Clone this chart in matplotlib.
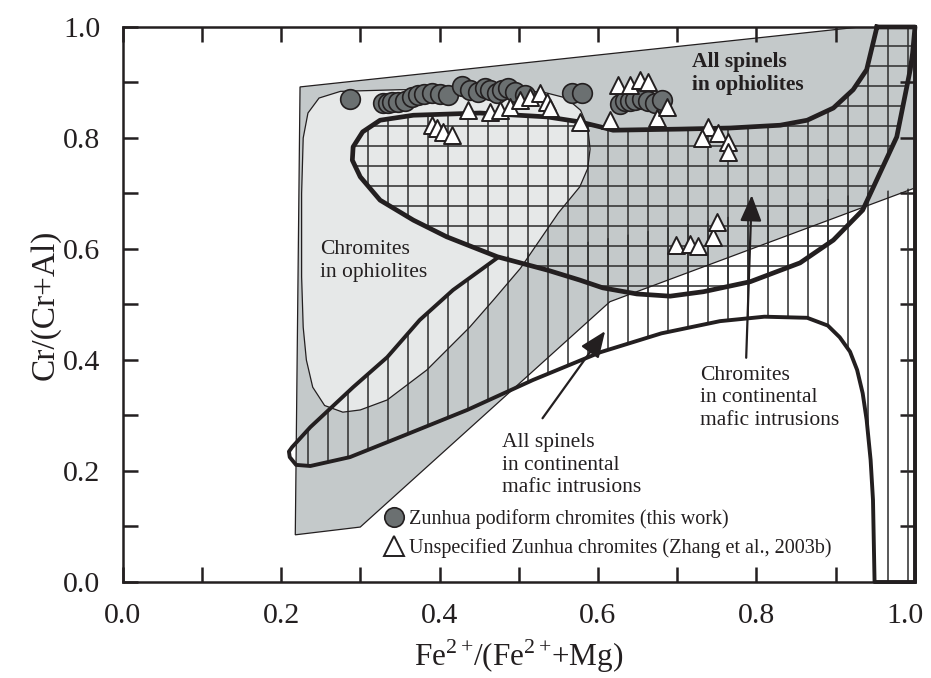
import numpy as np
import matplotlib
matplotlib.use("Agg")
import matplotlib.pyplot as plt
import matplotlib.transforms as mtransforms
from matplotlib.patches import Polygon
from matplotlib.lines import Line2D
from matplotlib.ticker import MultipleLocator, FormatStrFormatter

plt.rcParams['font.family'] = ['Liberation Serif', 'DejaVu Serif']
plt.rcParams['mathtext.fontset'] = 'custom'
plt.rcParams['mathtext.rm'] = 'Liberation Serif'

INK = '#231f20'
MID = '#c4c9ca'
LIGHT = '#e6e8e8'

# --- field outlines (x = Fe2+/(Fe2+ + Mg), y = Cr/(Cr+Al)) ---
# grey field: all spinels in ophiolites
outer_x = [0.218, 0.300, 0.615, 1.0, 1.0, 0.93, 0.224]
outer_y = [0.085, 0.099, 0.505, 0.71, 1.0, 1.0, 0.892]

# light field: chromites in ophiolites
light_x = [0.226, 0.228, 0.234, 0.248, 0.275, 0.35, 0.45, 0.53, 0.56, 0.578, 0.587, 0.59,
           0.587, 0.577, 0.55, 0.502, 0.468, 0.438, 0.384, 0.334, 0.30, 0.278, 0.255,
           0.24, 0.232, 0.228, 0.226]
light_y = [0.70, 0.80, 0.845, 0.872, 0.884, 0.887, 0.887, 0.883, 0.872, 0.85, 0.82, 0.78,
           0.745, 0.712, 0.665, 0.565, 0.508, 0.459, 0.382, 0.328, 0.31, 0.306, 0.318,
           0.351, 0.40, 0.459, 0.55]

# thick loop (cross-hatched): chromites in continental mafic intrusions
loopA_x = [0.952, 0.939, 0.922, 0.897, 0.864, 0.830, 0.767, 0.703, 0.619, 0.603, 0.577,
           0.536, 0.451, 0.367, 0.325, 0.303, 0.291, 0.290, 0.300, 0.325, 0.367, 0.409,
           0.473, 0.536, 0.577, 0.606, 0.649, 0.691, 0.733, 0.792, 0.855, 0.897, 0.934,
           0.977, 0.994, 0.997, 1.0]
loopA_y = [1.0, 0.923, 0.887, 0.854, 0.832, 0.823, 0.818, 0.816, 0.814, 0.820, 0.829,
           0.838, 0.845, 0.841, 0.832, 0.811, 0.784, 0.760, 0.730, 0.688, 0.652, 0.622,
           0.586, 0.562, 0.544, 0.530, 0.519, 0.515, 0.523, 0.541, 0.575, 0.616, 0.670,
           0.802, 0.923, 0.953, 1.0]

# vertical-hatched field: all spinels in continental mafic intrusions
B_lower_x = [0.214, 0.210, 0.211, 0.219, 0.237, 0.287, 0.350, 0.435, 0.518, 0.603, 0.680,
             0.754, 0.810, 0.864, 0.890, 0.905, 0.918, 0.927, 0.934, 0.939, 0.944, 0.947,
             0.949]
B_lower_y = [0.243, 0.235, 0.225, 0.211, 0.209, 0.225, 0.261, 0.310, 0.364, 0.414, 0.448,
             0.470, 0.478, 0.476, 0.462, 0.441, 0.415, 0.382, 0.340, 0.292, 0.220, 0.148,
             0.0]
B_upper_x = [0.214, 0.237, 0.291, 0.334, 0.375, 0.417, 0.473]
B_upper_y = [0.243, 0.279, 0.351, 0.405, 0.472, 0.526, 0.584]

# --- samples ---
pod_x = [0.287, 0.329, 0.335, 0.340, 0.348, 0.356, 0.365, 0.373, 0.381, 0.390, 0.400,
         0.411, 0.428, 0.438, 0.449, 0.457, 0.464, 0.472, 0.479, 0.486, 0.495, 0.508,
         0.567, 0.580, 0.628, 0.634, 0.640, 0.647, 0.655, 0.663, 0.672, 0.681]
pod_y = [0.870, 0.863, 0.863, 0.865, 0.865, 0.867, 0.874, 0.877, 0.879, 0.881, 0.879,
         0.877, 0.894, 0.886, 0.883, 0.890, 0.886, 0.881, 0.886, 0.890, 0.883, 0.877,
         0.881, 0.881, 0.861, 0.867, 0.867, 0.868, 0.870, 0.867, 0.863, 0.868]

uns_x = [0.436, 0.391, 0.397, 0.404, 0.416, 0.464, 0.476, 0.489, 0.502, 0.514, 0.527,
         0.536, 0.539, 0.577, 0.615, 0.625, 0.640, 0.653, 0.663, 0.674, 0.687,
         0.739, 0.751, 0.731, 0.764, 0.764,
         0.699, 0.716, 0.726, 0.745, 0.750]
uns_y = [0.850, 0.823, 0.818, 0.811, 0.805, 0.847, 0.850, 0.856, 0.868, 0.874, 0.881,
         0.865, 0.854, 0.829, 0.832, 0.895, 0.895, 0.905, 0.901, 0.836, 0.856,
         0.820, 0.809, 0.800, 0.793, 0.775,
         0.607, 0.609, 0.605, 0.622, 0.649]

fig = plt.figure(figsize=(9.31, 6.78), dpi=100)
ax = fig.add_axes([0.1316, 0.1416, 0.8512, 0.8186])
ax.set_xlim(0, 1)
ax.set_ylim(0, 1)

# fills
outer = Polygon(np.column_stack([outer_x, outer_y]), closed=True, facecolor=MID,
                edgecolor='none', zorder=1)
ax.add_patch(outer)
light = Polygon(np.column_stack([light_x, light_y]), closed=True, facecolor=LIGHT,
                edgecolor='none', zorder=2)
ax.add_patch(light)

# clip regions for the hatching
loopA = Polygon(np.column_stack([loopA_x, loopA_y]), closed=True, fill=False,
                lw=0, zorder=0)
ax.add_patch(loopA)
bx = B_lower_x + [1.0, 1.0, 0.93] + B_upper_x[::-1]
by = B_lower_y + [0.0, 0.71, 0.70] + B_upper_y[::-1]
loopB = Polygon(np.column_stack([bx, by]), closed=True, fill=False, lw=0, zorder=0)
ax.add_patch(loopB)

dx, dy = 0.02524, 0.03604
vx = np.arange(0.6126 - 25 * dx, 1.0, dx)
hy = np.arange(0.7856 - 22 * dy, 1.0, dy)
hatch_kw = dict(colors='#333333', linewidth=1.15, zorder=3)
v1 = ax.vlines(vx, 0, 1, **hatch_kw)
v1.set_clip_path(loopA)
h1 = ax.hlines(hy, 0, 1, **hatch_kw)
h1.set_clip_path(loopA)
v2 = ax.vlines(vx, 0, 1, **hatch_kw)
v2.set_clip_path(loopB)

# thin outlines
ax.add_patch(Polygon(np.column_stack([outer_x, outer_y]), closed=True, fill=False,
                     edgecolor=INK, lw=0.9, zorder=4))
ax.add_patch(Polygon(np.column_stack([light_x, light_y]), closed=True, fill=False,
                     edgecolor=INK, lw=0.9, zorder=4))

# thick outlines
ax.plot(loopA_x + [loopA_x[0]], loopA_y + [loopA_y[0]], color=INK, lw=3.4,
        solid_joinstyle='round', zorder=5, clip_on=False)
ax.plot(B_upper_x[::-1] + B_lower_x[1:] + [1.0, 1.0], B_upper_y[::-1] + B_lower_y[1:] + [0.0, 1.0],
        color=INK, lw=2.8, solid_joinstyle='round', zorder=5, clip_on=False)

# arrows
akw = dict(arrowstyle='-|>,head_length=0.8,head_width=0.33', color=INK, lw=1.6,
           shrinkA=0, shrinkB=0, mutation_scale=20)
ax.annotate('', xy=(0.794, 0.697), xytext=(0.787, 0.404), arrowprops=akw, zorder=6)
ax.annotate('', xy=(0.609, 0.452), xytext=(0.530, 0.295), arrowprops=akw, zorder=6)

# labels of the fields (y = baseline of the last line)
tkw = dict(fontsize=15.5, color=INK, ha='left', va='baseline', linespacing=1.25, zorder=7)
ax.text(0.719, 0.886, 'All spinels\nin ophiolites', fontweight='bold', **tkw)
ax.text(0.249, 0.550, 'Chromites\nin ophiolites', **tkw)
ax.text(0.729, 0.283, 'Chromites\nin continental\nmafic intrusions', **tkw)
ax.text(0.479, 0.162, 'All spinels\nin continental\nmafic intrusions', **tkw)

# samples
ax.scatter(pod_x, pod_y, s=200, marker='o', facecolor='#6b7071', edgecolor=INK,
           linewidth=1.2, zorder=8)
ax.scatter(uns_x, uns_y, s=150, marker='^', facecolor='white', edgecolor=INK,
           linewidth=1.4, zorder=9)

handles = [
    Line2D([], [], ls='none', marker='o', markersize=14, markerfacecolor='#6b7071',
           markeredgecolor=INK, markeredgewidth=1.2),
    Line2D([], [], ls='none', marker='^', markersize=14, markerfacecolor='white',
           markeredgecolor=INK, markeredgewidth=1.4),
]
ax.legend(handles, ['Zunhua podiform chromites (this work)',
                    'Unspecified Zunhua chromites (Zhang et al., 2003b)'],
          loc='upper left', bbox_to_anchor=(0.332, 0.132), frameon=False,
          fontsize=14.5, handlelength=0.8, handletextpad=0.35, labelspacing=0.45,
          borderpad=0, borderaxespad=0, labelcolor=INK)

# axes
ax.xaxis.set_major_locator(MultipleLocator(0.2))
ax.yaxis.set_major_locator(MultipleLocator(0.2))
ax.xaxis.set_minor_locator(MultipleLocator(0.1))
ax.yaxis.set_minor_locator(MultipleLocator(0.1))
ax.xaxis.set_major_formatter(FormatStrFormatter('%.1f'))
ax.yaxis.set_major_formatter(FormatStrFormatter('%.1f'))
ax.tick_params(which='both', direction='in', length=10.5, width=1.8, color=INK,
               top=True, right=True)
ax.tick_params(which='major', labelsize=21.5, labelcolor=INK)
ax.tick_params(axis='x', which='major', pad=15)
ax.tick_params(axis='y', which='major', pad=16)
for s in ax.spines.values():
    s.set_linewidth(1.8)
    s.set_color(INK)
    s.set_zorder(10)

ax.set_xlabel(r'Fe$^{2+}\!$/(Fe$^{2+}\!$+Mg)', fontsize=22.5, color=INK,
              labelpad=6)
ax.set_ylabel('Cr/(Cr+Al)', fontsize=24, color=INK, labelpad=2)

# keep the last x tick label inside the figure
fig.canvas.draw()
for t in ax.xaxis.get_major_ticks():
    if t.get_loc() is not None and abs(t.get_loc() - 1.0) < 1e-6:
        t.label1.set_transform(t.label1.get_transform() +
                               mtransforms.ScaledTranslation(-7 / 72, 0, fig.dpi_scale_trans))

fig.savefig('out.png', dpi=100)
